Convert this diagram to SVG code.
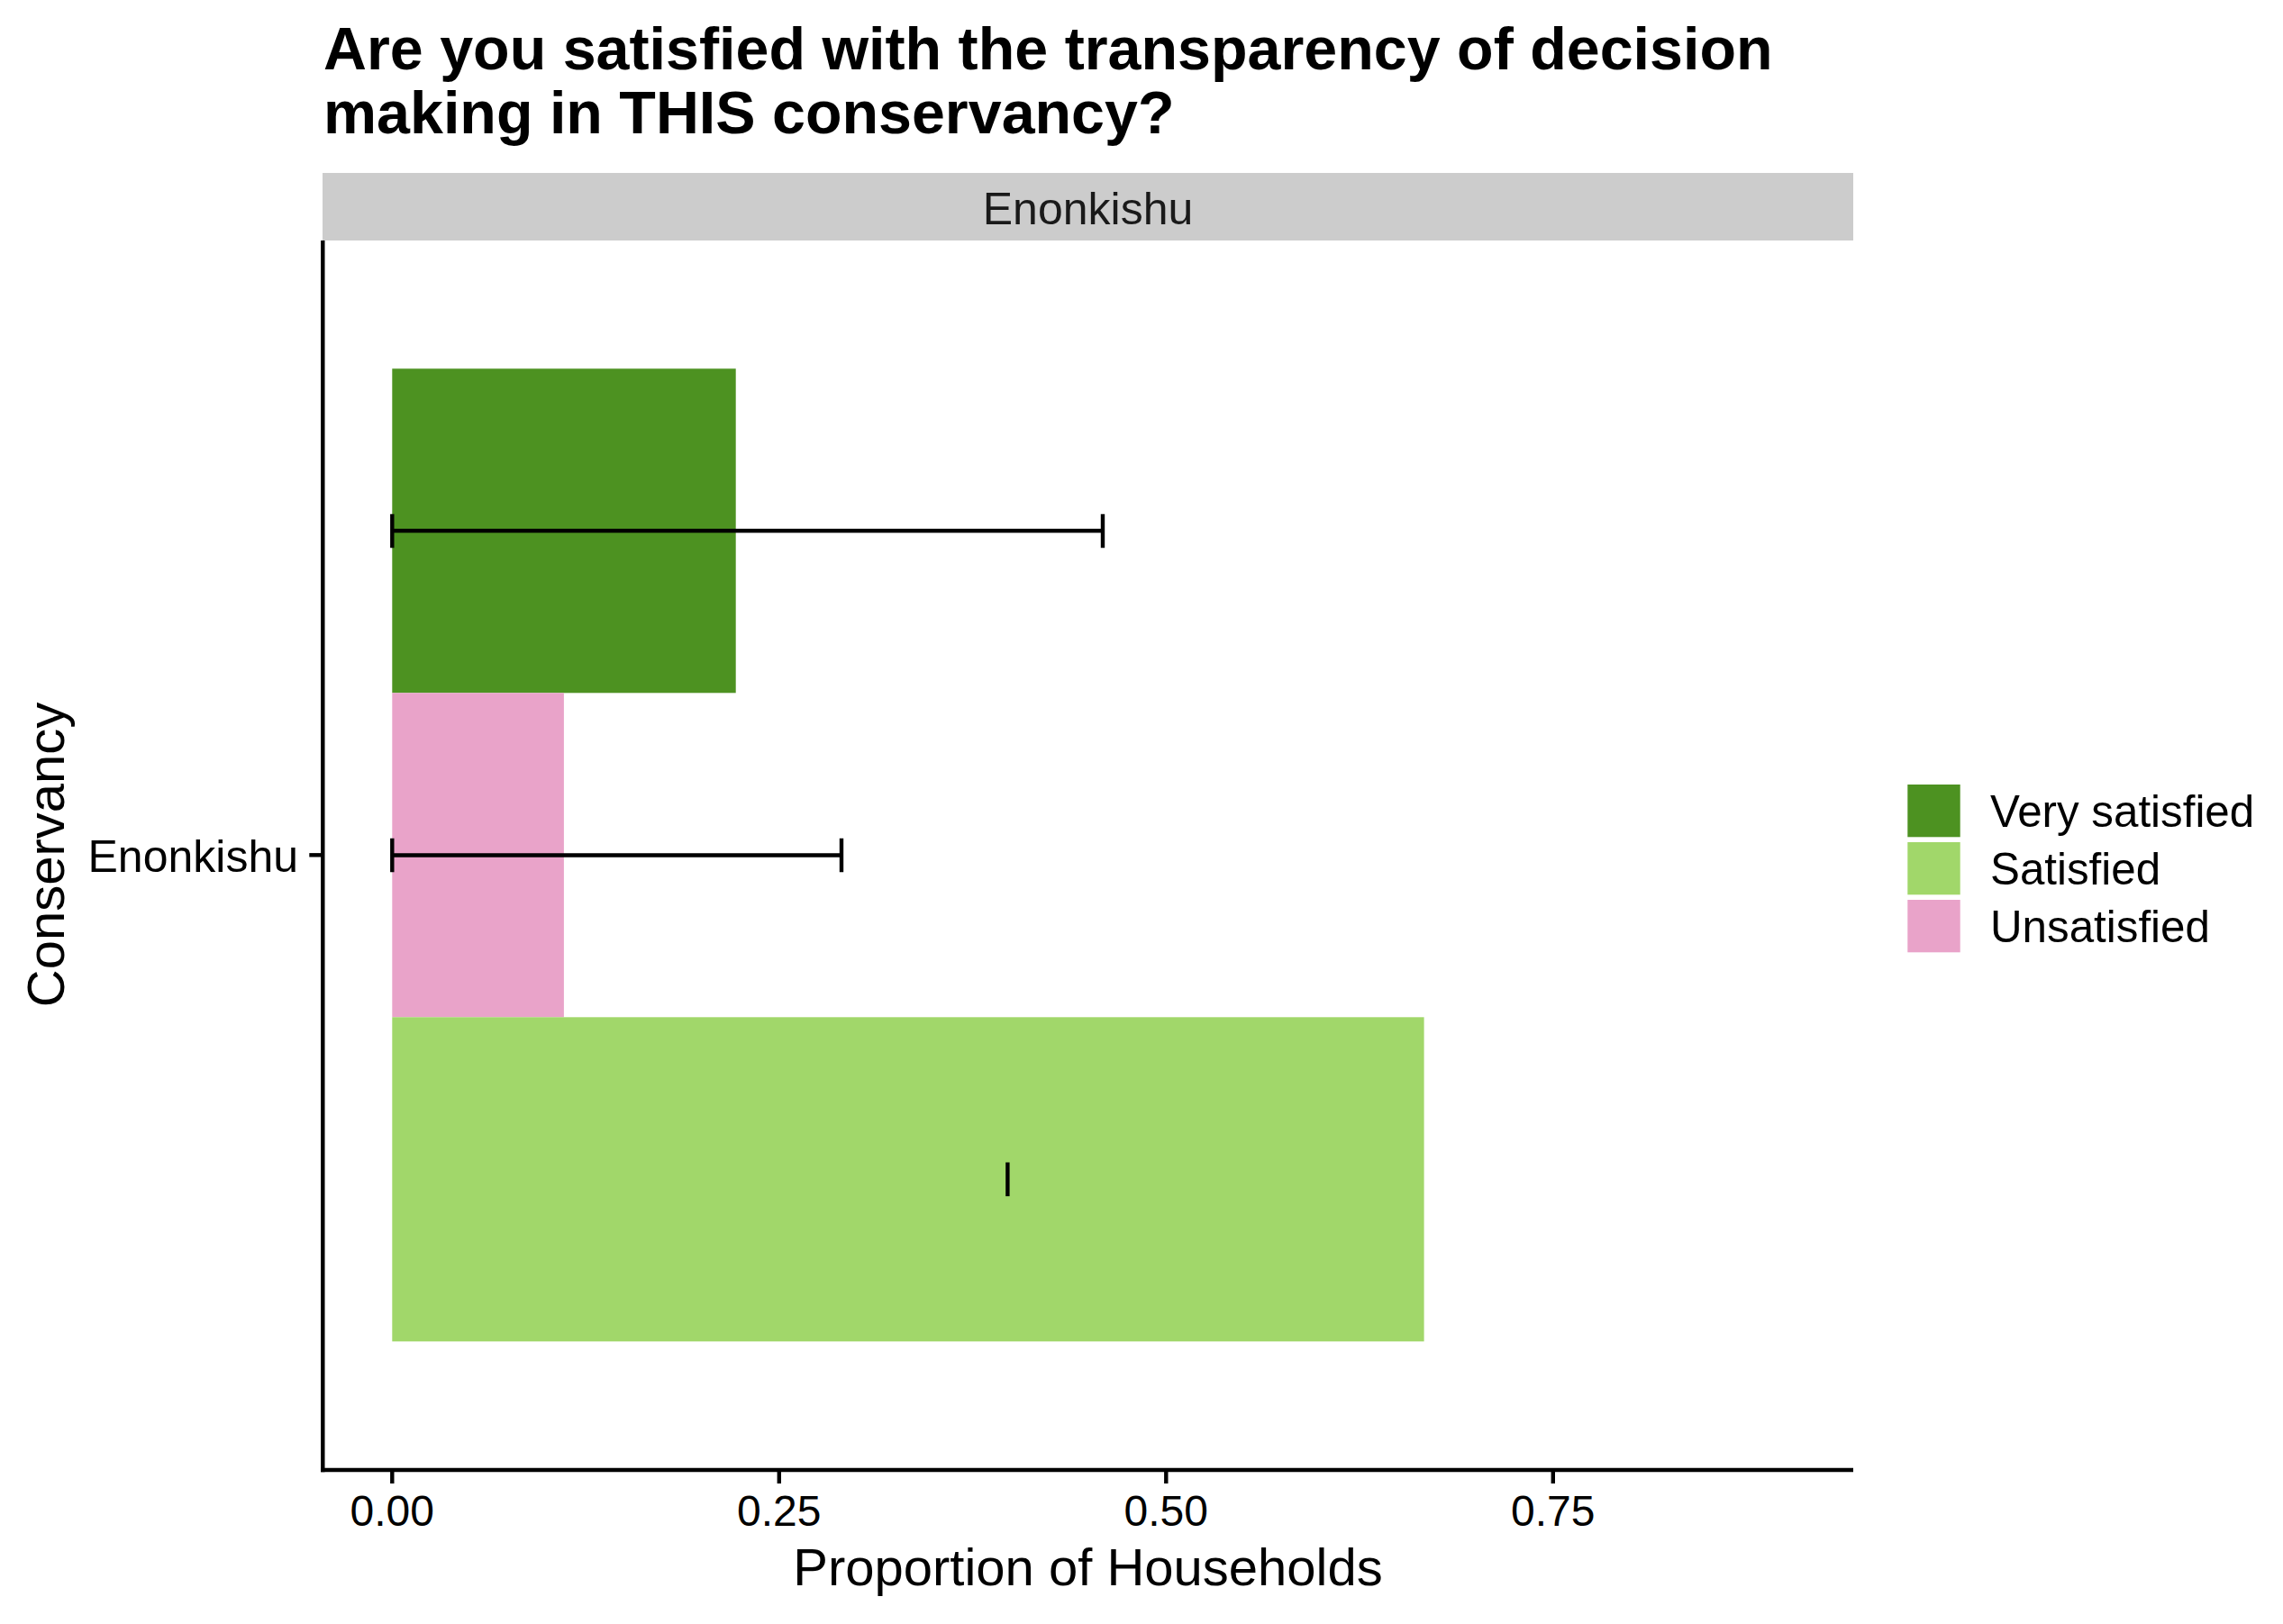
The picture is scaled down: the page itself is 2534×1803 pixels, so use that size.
<svg xmlns="http://www.w3.org/2000/svg" width="2534" height="1803" viewBox="0 0 2534 1803">
<style>
text{font-family:"Liberation Sans",Arial,Helvetica,sans-serif;fill:#000}
.title{font-size:66.4px;font-weight:bold}
.strip{font-size:50px;fill:#1A1A1A}
.tick{font-size:48px}
.ylab{font-size:50px}
.axt{font-size:58px}
.leg{font-size:49.3px}
.ax{stroke:#000;stroke-width:4.4;fill:none}
.eb{stroke:#000;stroke-width:4.4;fill:none}
</style>
<rect width="2534" height="1803" fill="#fff"/>
<g id="title">
<text class="title" x="359" y="77">Are you satisfied with the transparency of decision</text>
<text class="title" x="359" y="148">making in THIS conservancy?</text>
</g>
<g id="strip">
<rect x="358" y="192" width="1699" height="75" fill="#CCCCCC"/>
<text class="strip" x="1207.5" y="248.7" text-anchor="middle">Enonkishu</text>
</g>
<g id="bars">
<rect id="bar-very-satisfied" x="435.3" y="409.3" width="381.4" height="360" fill="#4D9221"/>
<rect id="bar-unsatisfied" x="435.3" y="769.3" width="190.6" height="360" fill="#E9A3C9"/>
<rect id="bar-satisfied" x="435.3" y="1129.3" width="1145.3" height="360" fill="#A1D76A"/>
</g>
<g id="errorbars">
<path class="eb" d="M435.3 589.3H1224M435.3 570.7V608.3M1224 570.7V608.3"/>
<path class="eb" d="M435.3 949.5H934M435.3 930.7V968.3M934 930.7V968.3"/>
<path class="eb" d="M1118.4 1290.5V1328.1"/>
</g>
<g id="axes">
<path class="ax" d="M358.3 267V1634.2"/>
<path class="ax" d="M356.1 1632H2057"/>
<path class="ax" d="M343.3 949.3H358.3"/>
<path class="ax" d="M435.3 1632V1647M864.8 1632V1647M1294.3 1632V1647M1723.8 1632V1647"/>
<text class="ylab" x="331" y="968.3" text-anchor="end">Enonkishu</text>
<text class="tick" x="435.3" y="1694" text-anchor="middle">0.00</text>
<text class="tick" x="864.8" y="1694" text-anchor="middle">0.25</text>
<text class="tick" x="1294.3" y="1694" text-anchor="middle">0.50</text>
<text class="tick" x="1723.8" y="1694" text-anchor="middle">0.75</text>
<text class="axt" x="1207.5" y="1760" text-anchor="middle">Proportion of Households</text>
<text class="axt" x="71" y="949" text-anchor="middle" transform="rotate(-90 71 949)">Conservancy</text>
</g>
<g id="legend">
<rect x="2117.3" y="871" width="58.4" height="58.3" fill="#4D9221"/>
<rect x="2117.3" y="935" width="58.4" height="58.3" fill="#A1D76A"/>
<rect x="2117.3" y="999" width="58.4" height="58.3" fill="#E9A3C9"/>
<text class="leg" x="2209" y="918.3">Very satisfied</text>
<text class="leg" x="2209" y="981.7">Satisfied</text>
<text class="leg" x="2209" y="1046">Unsatisfied</text>
</g>
</svg>
